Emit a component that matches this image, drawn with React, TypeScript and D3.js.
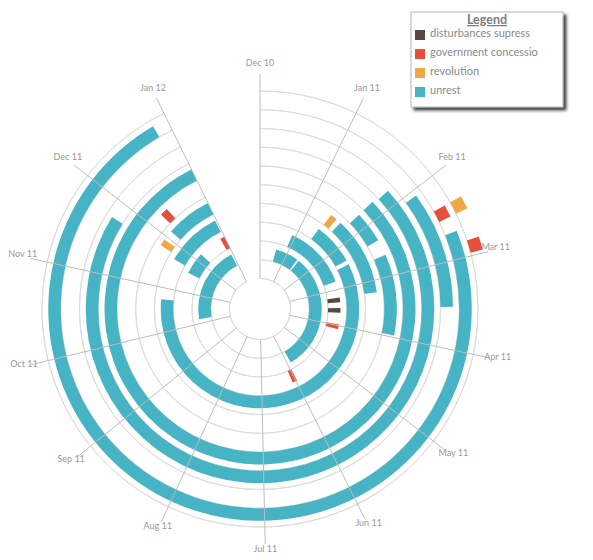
import * as d3 from 'd3';

const WIDTH = 585;
const HEIGHT = 552;
const CX = 252;
const CY = 301;
const FONT = 'Lato, "Liberation Sans", Arial, sans-serif';

const CATEGORIES = ['disturbances supress', 'government concessio', 'revolution', 'unrest'];
const CATEGORY_COLORS = ['#5a4741', '#e4503b', '#f0a746', '#46b4c4'];

const MONTH_LABELS = [
  'Dec 10', 'Jan 11', 'Feb 11', 'Mar 11', 'Apr 11', 'May 11', 'Jun 11',
  'Jul 11', 'Aug 11', 'Sep 11', 'Oct 11', 'Nov 11', 'Dec 11', 'Jan 12',
];

// [lane, start, end] -- unrest periods
const UNREST_PERIODS: [number, string, string][] = [
  [1, '2010-12-19', '2011-01-14'],
  [1, '2011-01-16', '2011-05-28'],
  [1, '2011-10-06', '2011-12-30'],
  [2, '2010-12-29', '2011-02-22'],
  [2, '2011-11-18', '2011-12-07'],
  [3, '2011-01-13', '2011-02-11'],
  [3, '2011-02-14', '2011-10-24'],
  [3, '2011-11-22', '2011-12-31'],
  [4, '2011-01-21', '2011-03-08'],
  [4, '2011-12-05', '2012-01-01'],
  [5, '2011-01-25', '2011-02-10'],
  [5, '2011-02-18', '2011-03-31'],
  [6, '2011-01-25', '2012-01-01'],
  [7, '2011-01-26', '2011-11-24'],
  [8, '2011-02-03', '2011-03-17'],
  [9, '2011-02-20', '2011-12-27'],
];

// [lane, category, date] -- single-day events
const POINT_EVENTS: [number, string, string][] = [
  [2, 'disturbances supress', '2011-03-08'],
  [2, 'disturbances supress', '2011-03-17'],
  [2, 'government concessio', '2011-03-31'],
  [2, 'government concessio', '2011-05-31'],
  [2, 'government concessio', '2011-12-28'],
  [4, 'revolution', '2011-01-14'],
  [4, 'revolution', '2011-11-25'],
  [5, 'government concessio', '2011-12-08'],
  [9, 'government concessio', '2011-02-11'],
  [10, 'revolution', '2011-02-11'],
  [10, 'government concessio', '2011-02-24'],
];

const parseDate = d3.timeParse('%Y-%m-%d');
const START = new Date(2010, 11, 1);
const END = new Date(2012, 1, 1);
const GRID_END = new Date(2012, 0, 1);
const EVENT_DAYS = 4;
const LANE_COUNT = 11;
const BAND = 12.5;

export default function App() {
  const angle = d3.scaleTime().domain([START, END]).range([0, 2 * Math.PI]);
  const laneRadius = d3.scaleLinear().domain([0, LANE_COUNT - 1]).range([30.5, 218]);
  const color = d3.scaleOrdinal<string, string>().domain(CATEGORIES).range(CATEGORY_COLORS);
  const arc = d3.arc<any>();

  const months = d3.timeMonth.range(START, d3.timeDay.offset(GRID_END, 1));
  const rings = d3.range(LANE_COUNT).map((i) => laneRadius(i));

  const bar = (lane: number, a: Date, b: Date) =>
    arc({
      innerRadius: laneRadius(lane),
      outerRadius: laneRadius(lane) + BAND,
      startAngle: angle(a),
      endAngle: angle(b),
    }) as string;

  const spokeIn = laneRadius(0);
  const spokeOut = 235;
  const labelR = 243;

  return (
    <svg width={WIDTH} height={HEIGHT} style={{ display: 'block', overflow: 'visible' }}>
      <defs>
        <filter id="legend-shadow" x="-10%" y="-10%" width="130%" height="130%">
          <feDropShadow dx="3" dy="3" stdDeviation="1.5" floodColor="#222" floodOpacity="0.85" />
        </filter>
      </defs>
      <g transform={`translate(${CX},${CY})`}>
        {rings.map((r, i) => (
          <path
            key={`ring-${i}`}
            d={arc({ innerRadius: r, outerRadius: r, startAngle: 0, endAngle: angle(GRID_END) }) as string}
            fill="none"
            stroke="#dcdcdc"
            strokeWidth={1}
          />
        ))}
        {UNREST_PERIODS.map(([lane, s, e], i) => (
          <path key={`u-${i}`} d={bar(lane, parseDate(s)!, parseDate(e)!)} fill={color('unrest')} />
        ))}
        {POINT_EVENTS.map(([lane, cat, d], i) => {
          const day = parseDate(d)!;
          return (
            <path
              key={`p-${i}`}
              d={bar(lane, day, d3.timeDay.offset(day, EVENT_DAYS))}
              fill={color(cat)}
            />
          );
        })}
        {months.map((m, i) => {
          const a = angle(m);
          return (
            <g key={`spoke-${i}`}>
              <line
                x1={spokeIn * Math.sin(a)}
                y1={-spokeIn * Math.cos(a)}
                x2={spokeOut * Math.sin(a)}
                y2={-spokeOut * Math.cos(a)}
                stroke="#bdbdbd"
                strokeWidth={1}
              />
              <text
                x={labelR * Math.sin(a)}
                y={-labelR * Math.cos(a)}
                textAnchor="middle"
                fontFamily={FONT}
                fontSize={9}
                fill="#999"
              >
                {MONTH_LABELS[i]}
              </text>
            </g>
          );
        })}
      </g>
      <g transform="translate(403,4)">
        <rect width={152} height={95} fill="#fff" stroke="#b5b5b5" filter="url(#legend-shadow)" />
        <text
          x={76}
          y={12}
          textAnchor="middle"
          fontFamily={FONT}
          fontSize={12.5}
          fontWeight="bold"
          fill="#7d7d7d"
          textDecoration="underline"
        >
          Legend
        </text>
        {CATEGORIES.map((c, i) => (
          <g key={c} transform={`translate(4,${18 + i * 19})`}>
            <rect width={10} height={10} fill={color(c)} />
            <text x={15} y={6.5} fontFamily={FONT} fontSize={11} fill="#8a8a8a">
              {c}
            </text>
          </g>
        ))}
      </g>
    </svg>
  );
}
